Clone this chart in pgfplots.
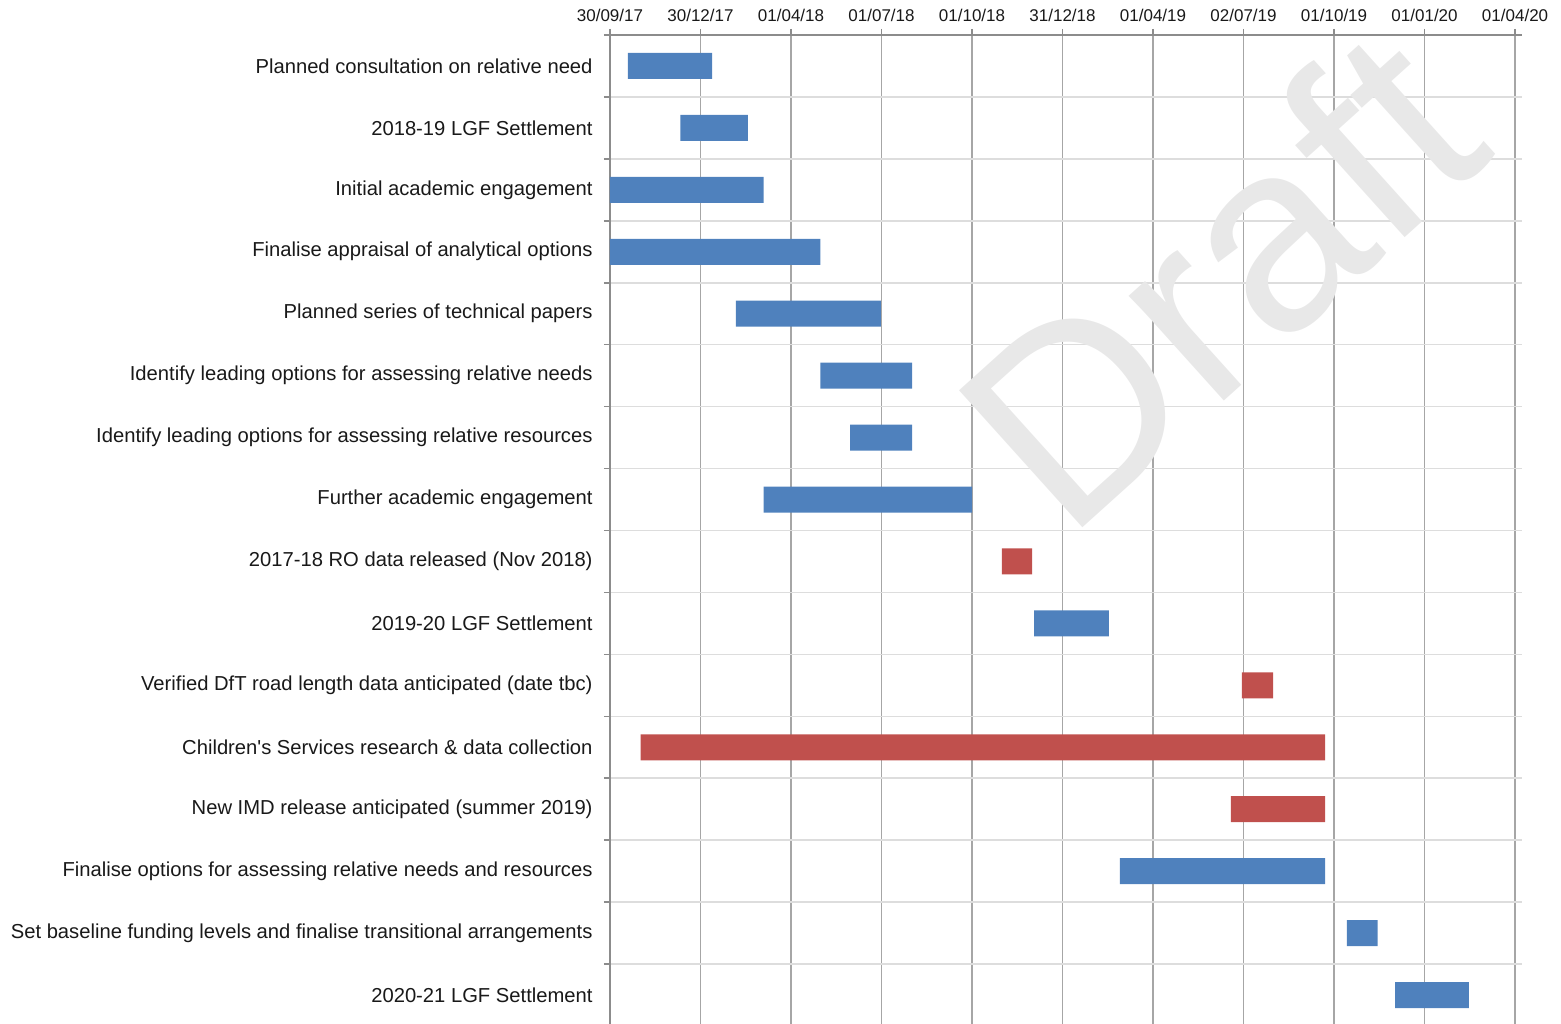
\documentclass[border=0pt]{standalone}
\usepackage{fontspec}
\setmainfont{Liberation Sans}
\usepackage{pgfplots}
\usepackage{pgfplotstable}
\pgfplotsset{compat=1.18}
\definecolor{barblue}{HTML}{4F81BD}
\definecolor{barred}{HTML}{C0504D}
\definecolor{gridv}{HTML}{A6A6A6}
\definecolor{gridh}{HTML}{DDDDDD}
\definecolor{axgray}{HTML}{8C8C8C}
\definecolor{wm}{HTML}{E8E8E8}
\pgfplotstableread{
y    start  blue   red
15.5 18     85     0
14.5 71     68     0
13.5 0      155    0
12.5 0      212    0
11.5 127    146    0
10.5 212    92.5   0
9.5  242    62.5   0
8.5  155    210    0
7.5  395    0      30.5
6.5  427.5  75.5   0
5.5  637    0      31.5
4.5  31     0      690
3.5  626    0      95
2.5  514    207    0
1.5  743    31     0
0.5  791.5  74.5   0
}\gantt
\begin{document}
\begin{tikzpicture}
\begin{axis}[
  name=ax,
  scale only axis,
  width=456pt, height=495.5pt,
  xmin=0, xmax=919.5, ymin=0, ymax=16,
  xbar stacked, bar width=13pt,
  axis x line*=top, axis y line*=left,
  axis line style={-, draw=axgray, line width=0.8pt},
  tick align=outside,
  xtick pos=upper, xticklabel pos=upper,
  ytick pos=left,
  xtick={0,91.25,182.5,273.75,365,456.25,547.5,638.75,730,821.25,912.5},
  xticklabels={30/09/17,30/12/17,01/04/18,01/07/18,01/10/18,31/12/18,01/04/19,02/07/19,01/10/19,01/01/20,01/04/20},
  xticklabel style={font=\fontsize{8.5}{10}\selectfont, text=black!90, inner xsep=0pt},
  ytick={1,...,16},
  yticklabels={2020-21 LGF Settlement,
    Set baseline funding levels and finalise transitional arrangements,
    Finalise options for assessing relative needs and resources,
    New IMD release anticipated (summer 2019),
    Children\textquotesingle s Services research \& data collection,
    Verified DfT road length data anticipated (date tbc),
    2019-20 LGF Settlement,
    2017-18 RO data released (Nov 2018),
    Further academic engagement,
    Identify leading options for assessing relative resources,
    Identify leading options for assessing relative needs,
    Planned series of technical papers,
    Finalise appraisal of analytical options,
    Initial academic engagement,
    2018-19 LGF Settlement,
    Planned consultation on relative need},
  yticklabel style={font=\fontsize{10.1}{12}\selectfont, text=black!90, yshift=-15.48pt, xshift=-2.2pt},
  major tick length=3pt,
  tick style={draw=axgray, line width=0.8pt},
  xmajorgrids, ymajorgrids,
  x grid style={draw=gridv, line width=0.9pt},
  y grid style={draw=gridh, line width=0.8pt},
]
\addplot[draw=none, fill=none] table[x=start, y=y] {\gantt};
\addplot[draw=none, fill=barblue] table[x=blue, y=y] {\gantt};
\addplot[draw=none, fill=barred] table[x=red, y=y] {\gantt};
\node[rotate=42, anchor=base west, text=wm, inner sep=0pt,
  font=\fontsize{134}{140}\selectfont] at (axis cs:460,7.8) {Draft};
\end{axis}
\pgfresetboundingbox
\path (ax.north west) ++(-305pt,17.5pt) rectangle ++(780.5pt,-511.5pt);
\end{tikzpicture}
\end{document}
